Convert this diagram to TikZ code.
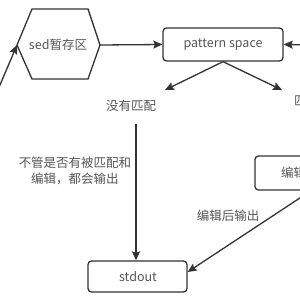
\documentclass[tikz,border=0pt]{standalone}
\usepackage{fontspec}
\setmainfont{Noto Sans CJK SC}
\usetikzlibrary{arrows.meta,shapes.geometric}
\definecolor{lc}{HTML}{333333}
\definecolor{tc}{HTML}{555555}
\tikzset{
  box/.style={draw=lc,line width=1.3pt,rounded corners=3.5pt,inner sep=0pt},
  txt/.style={text=tc,font=\fontsize{12.5}{16}\selectfont,inner sep=0pt},
  conn/.style={draw=lc,line width=1.3pt,-{Stealth[length=9pt,width=8pt,inset=1.5pt]}},
}
\begin{document}
\begin{tikzpicture}[x=1pt,y=-1pt]
\useasboundingbox (0,0) rectangle (300,300);
\fill[white] (0,0) rectangle (300,300);
\begin{scope}
\clip (0,0) rectangle (300,300);
% hexagon
\draw[lc,line width=1.3pt] (17,45) -- (32,9) -- (88,9) -- (100,45) -- (88,79) -- (32,79) -- cycle;
\node[txt] (sed) at (58,45) {sed暂存区};
\coordinate (sedW) at (17,45);
\coordinate (sedE) at (100,45);
% pattern space
\node[box,minimum width=120pt,minimum height=33pt] (ps) at (223,44.5) {};
\node[txt] (pst) at (223,44.5) {pattern space};
% stdout
\node[box,minimum width=99pt,minimum height=31pt] (so) at (137.5,276.5) {};
\node[txt] (sot) at (138,277) {stdout};
% right box
\node[box,minimum width=100pt,minimum height=34pt] (ed) at (305,173) {};
\node[txt,anchor=west] (edt) at (281,173) {编辑};
% labels
\node[txt] (nm) at (131,106) {没有匹配};
\node[txt,anchor=west] (m) at (294,101) {匹配};
\node[txt,align=center] (all) at (75,171) {不管是否有被匹配和\\编辑，都会输出};
\node[txt] (eo) at (228,216) {编辑后输出};
% free ends
\coordinate (in1) at (-6,99);
\coordinate (in2) at (320,45);
\coordinate (l1) at (165,90);
\coordinate (r1) at (282,90);
\coordinate (v1) at (136,124);
\coordinate (ed1) at (312,190);
% connectors
\draw[conn] (in1) -- (sedW);
\draw[conn] (sedE) -- (ps.west);
\draw[conn] (in2) -- (ps.east);
\draw[conn] (ps.south) -- (l1);
\draw[conn] (ps.south) -- (r1);
\draw[conn] (v1) -- (v1 |- so.north);
\draw[conn] (ed1) -- (so.east |- 0,272);
\end{scope}
\end{tikzpicture}
\end{document}
